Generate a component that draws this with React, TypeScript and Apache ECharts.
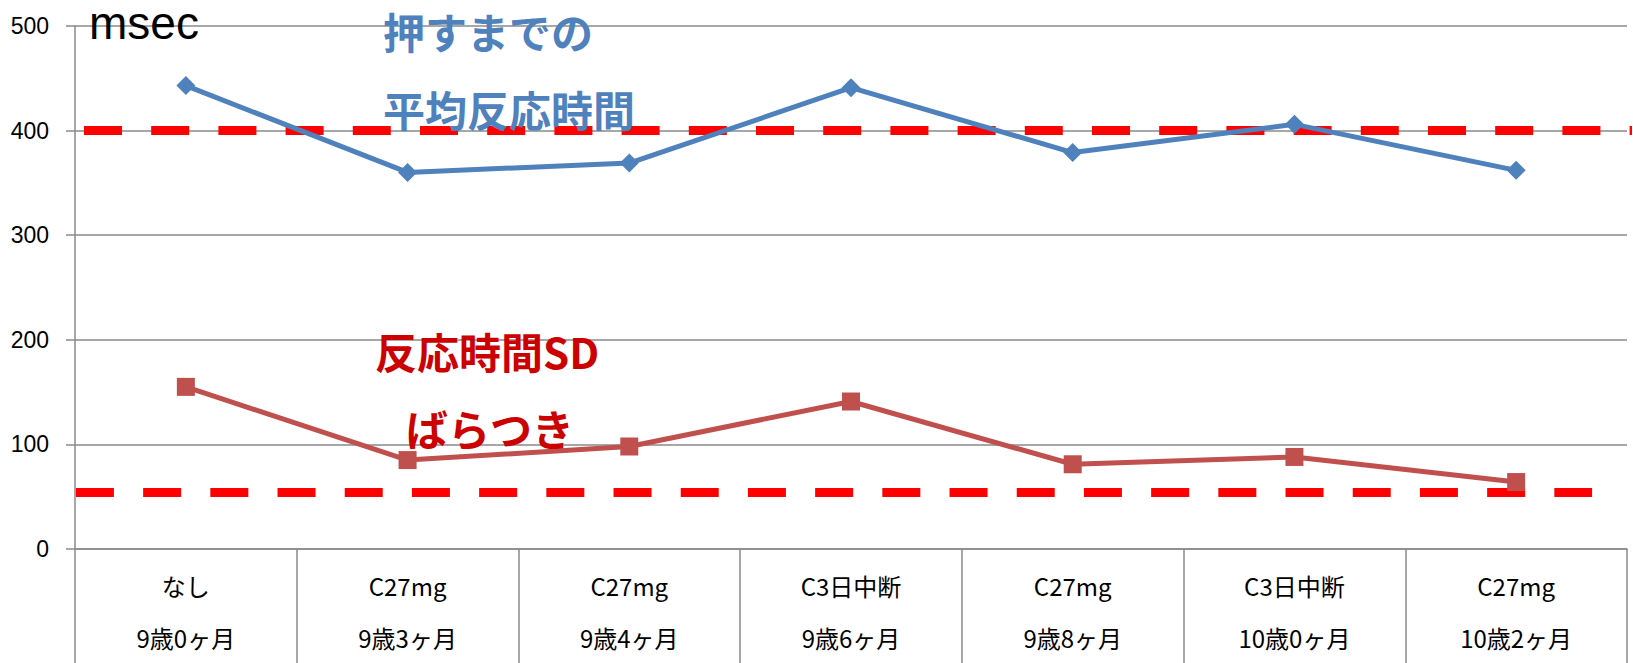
import React, { useEffect, useRef } from "react";
import * as echarts from "echarts";

// Category labels (two rows: condition / age)
const conditions = ["なし", "C27mg", "C27mg", "C3日中断", "C27mg", "C3日中断", "C27mg"];
const ages = ["9歳0ヶ月", "9歳3ヶ月", "9歳4ヶ月", "9歳6ヶ月", "9歳8ヶ月", "10歳0ヶ月", "10歳2ヶ月"];

// Mean reaction time until pressing (msec)
const meanReaction = [443, 360, 369, 441, 379, 406, 362];
// Reaction time SD (variability, msec)
const sdReaction = [155, 85, 98, 141, 81, 88, 64];

// Reference levels drawn as dashed lines
const meanReference = 400;
const sdReference = 54;

const yTicks = { min: 0, max: 500, interval: 100 };

const GRID_GRAY = "#8a8a8a";
const BLUE = "#4F81BD";
const RED_LINE = "#C0504D";
const RED_TEXT = "#CC0000";

export default function App() {
  const ref = useRef<HTMLDivElement>(null);

  useEffect(() => {
    if (!ref.current) return;
    const chart = echarts.init(ref.current, undefined, { renderer: "svg" });

    // Dashed horizontal reference line on the hidden 0..1 x axis (spans the plot width)
    const dash = (value: number, from: number, to: number) => ({
      type: "line",
      xAxisIndex: 1,
      data: [
        [from, value],
        [to, value],
      ],
      z: 2,
      silent: true,
      clip: false,
      symbol: "none",
      lineStyle: {
        color: "#FF0000",
        width: 9,
        type: [38, 29.2],
        cap: "butt",
      },
    });

    chart.setOption({
      animation: false,
      backgroundColor: "#ffffff",
      grid: { left: 75, right: 6, top: 26, bottom: 111 },
      xAxis: [
        {
          type: "category",
          data: conditions,
          boundaryGap: true,
          axisLine: { lineStyle: { color: GRID_GRAY, width: 1.5 } },
          axisTick: {
            show: true,
            length: 115,
            lineStyle: { color: GRID_GRAY, width: 1.5 },
          },
          axisLabel: {
            interval: 0,
            margin: 10,
            color: "#000",
            fontSize: 24,
            lineHeight: 52,
            fontFamily: "Noto Sans CJK JP",
            formatter: (v: string, i: number) => `${v}\n${ages[i]}`,
          },
        },
        { type: "value", min: 0, max: 1, show: false },
      ],
      yAxis: {
        type: "value",
        min: yTicks.min,
        max: yTicks.max,
        interval: yTicks.interval,
        axisLine: { show: true, lineStyle: { color: GRID_GRAY, width: 1.5 } },
        axisTick: { show: true, length: 9, lineStyle: { color: GRID_GRAY, width: 1.5 } },
        splitLine: { show: true, lineStyle: { color: GRID_GRAY, width: 1.5 } },
        axisLabel: {
          margin: 26,
          color: "#000",
          fontSize: 23,
          fontFamily: "Liberation Sans, Arial, sans-serif",
        },
      },
      series: [
        dash(meanReference, 0.0058, 1.004),
        dash(sdReference, 0.0006, 0.9775),
        {
          name: "平均反応時間",
          type: "line",
          data: meanReaction,
          z: 3,
          symbol: "diamond",
          symbolSize: 19,
          itemStyle: { color: BLUE },
          lineStyle: { color: BLUE, width: 5 },
        },
        {
          name: "反応時間SD",
          type: "line",
          data: sdReaction,
          z: 3,
          symbol: "rect",
          symbolSize: 18,
          itemStyle: { color: RED_LINE },
          lineStyle: { color: RED_LINE, width: 5 },
        },
      ],
      graphic: [
        {
          type: "text",
          left: 89,
          top: 0,
          z: 10,
          style: {
            text: "msec",
            fontSize: 46,
            fill: "#000",
            fontFamily: "Liberation Sans, Arial, sans-serif",
          },
        },
        {
          type: "text",
          x: 383,
          y: 30,
          z: 10,
          style: {
            text: "押すまでの",
            fontSize: 42,
            fontWeight: "bold",
            fill: BLUE,
            fontFamily: "Noto Sans CJK JP",
            verticalAlign: "middle",
          },
        },
        {
          type: "text",
          x: 383,
          y: 108,
          z: 10,
          style: {
            text: "平均反応時間",
            fontSize: 42,
            fontWeight: "bold",
            fill: BLUE,
            fontFamily: "Noto Sans CJK JP",
            verticalAlign: "middle",
          },
        },
        {
          type: "text",
          x: 375,
          y: 350,
          z: 10,
          style: {
            text: "反応時間SD",
            fontSize: 42,
            fontWeight: "bold",
            fill: RED_TEXT,
            fontFamily: "Noto Sans CJK JP",
            verticalAlign: "middle",
          },
        },
        {
          type: "text",
          x: 406,
          y: 427,
          z: 10,
          style: {
            text: "ばらつき",
            fontSize: 42,
            fontWeight: "bold",
            fill: RED_TEXT,
            fontFamily: "Noto Sans CJK JP",
            verticalAlign: "middle",
          },
        },
      ],
    });

    return () => chart.dispose();
  }, []);

  return (
    <div
      ref={ref}
      style={{ width: 1633, height: 663, position: "absolute", left: 0, top: 0 }}
    />
  );
}
